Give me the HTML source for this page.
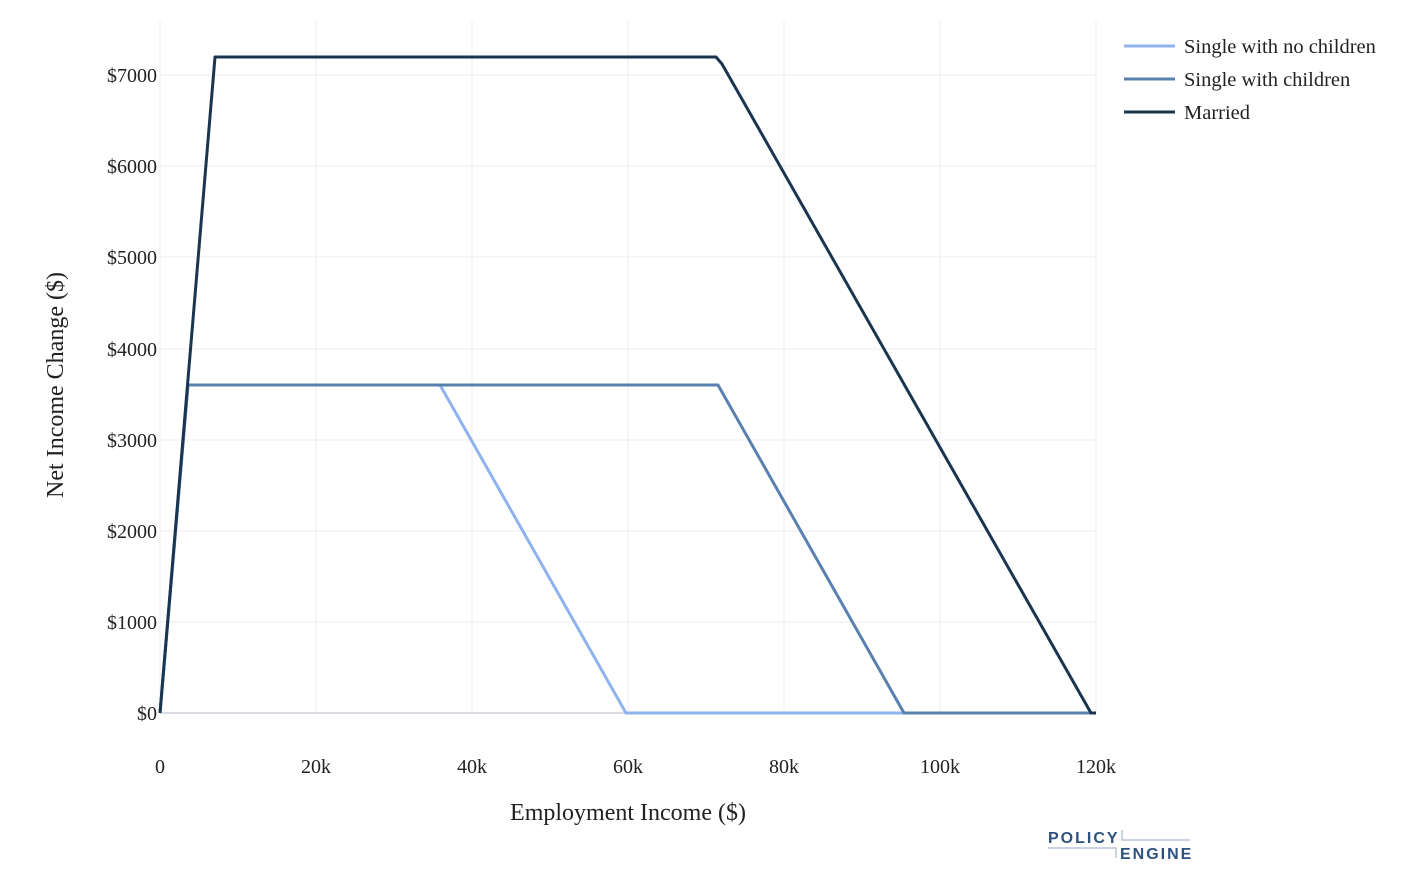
<!DOCTYPE html>
<html><head><meta charset="utf-8"><style>
html,body{margin:0;padding:0;background:#fff;}
svg{display:block;font-family:"Liberation Serif",serif;}
</style></head><body>
<svg width="1406" height="890" viewBox="0 0 1406 890" xmlns="http://www.w3.org/2000/svg">
<g stroke="#eceef1" stroke-width="1">
<line x1="316" y1="20" x2="316" y2="713"/><line x1="472" y1="20" x2="472" y2="713"/>
<line x1="628" y1="20" x2="628" y2="713"/><line x1="784" y1="20" x2="784" y2="713"/>
<line x1="940" y1="20" x2="940" y2="713"/><line x1="1096" y1="20" x2="1096" y2="713"/>
<line x1="160" y1="622" x2="1096" y2="622"/><line x1="160" y1="531" x2="1096" y2="531"/>
<line x1="160" y1="440" x2="1096" y2="440"/><line x1="160" y1="349" x2="1096" y2="349"/>
<line x1="160" y1="257" x2="1096" y2="257"/><line x1="160" y1="166" x2="1096" y2="166"/>
<line x1="160" y1="75" x2="1096" y2="75"/><line x1="160" y1="20" x2="160" y2="713"/>
</g>
<line x1="160" y1="713" x2="1096" y2="713" stroke="#d8dce2" stroke-width="2"/>
<g font-size="20" fill="#222" text-anchor="end">
<text x="157" y="720">$0</text><text x="157" y="629">$1000</text><text x="157" y="538">$2000</text>
<text x="157" y="447">$3000</text><text x="157" y="356">$4000</text><text x="157" y="264">$5000</text>
<text x="157" y="173">$6000</text><text x="157" y="82">$7000</text>
</g>
<g font-size="20" fill="#222" text-anchor="middle">
<text x="160" y="773">0</text><text x="316" y="773">20k</text><text x="472" y="773">40k</text>
<text x="628" y="773">60k</text><text x="784" y="773">80k</text><text x="940" y="773">100k</text>
<text x="1096" y="773">120k</text>
<text x="628" y="820" font-size="24">Employment Income ($)</text>
<text transform="translate(63,385) rotate(-90)" font-size="24">Net Income Change ($)</text>
</g>
<g fill="none" stroke-width="3" stroke-linejoin="round">
<polyline stroke="#8fb3ee" points="160,713 188,385 440,385 626,713 1096,713"/>
<polyline stroke="#5a80b0" points="160,713 188,385 718,385 904,713 1096,713"/>
<polyline stroke="#1a3550" points="160,713 215,57 716,57 722,64 1091,713 1096,713"/>
</g>
<g stroke-width="3">
<line x1="1124" y1="46" x2="1175" y2="46" stroke="#8fb3ee"/>
<line x1="1124" y1="79" x2="1175" y2="79" stroke="#5a80b0"/>
<line x1="1124" y1="112" x2="1175" y2="112" stroke="#1a3550"/>
</g>
<g font-size="20.5" fill="#222">
<text x="1184" y="53">Single with no children</text>
<text x="1184" y="86">Single with children</text>
<text x="1184" y="119">Married</text>
</g>
<g font-family="Liberation Sans,sans-serif" font-weight="bold" font-size="16" fill="#2c5280" letter-spacing="2">
<text x="1048" y="843">POLICY</text>
<text x="1120" y="859">ENGINE</text>
</g>
<g stroke="#b8c6d6" stroke-width="1.5" fill="none">
<polyline points="1048,848 1116,848 1116,858"/>
<polyline points="1122,830 1122,840 1190,840"/>
</g>
</svg>
</body></html>
